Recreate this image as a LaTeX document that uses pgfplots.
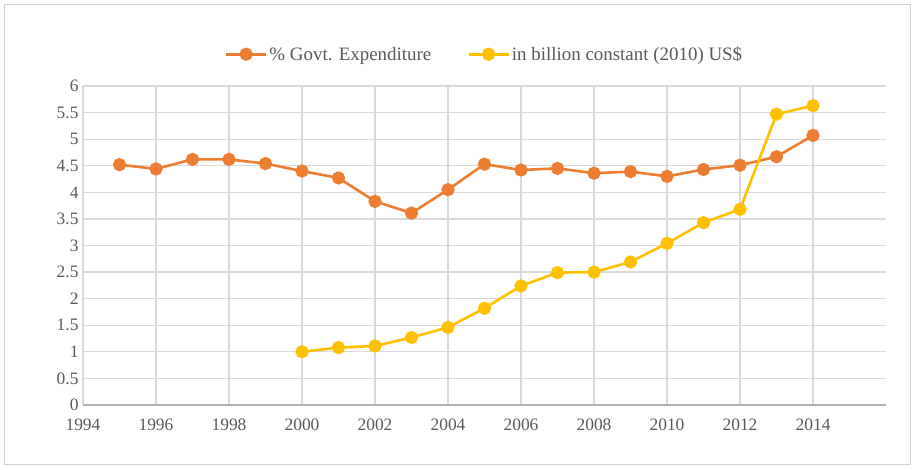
\documentclass[border=0pt]{standalone}
\usepackage{fontspec}
\setmainfont{Liberation Serif}
\usepackage{pgfplots}
\pgfplotsset{compat=1.18}
\definecolor{orng}{HTML}{ED7D31}
\definecolor{yell}{HTML}{FFC000}
\definecolor{grd}{HTML}{D9D9D9}
\definecolor{txt}{HTML}{595959}
\begin{document}
\begin{tikzpicture}
\begin{axis}[
  scale only axis,
  width=803bp, height=319bp,
  xmin=1994, xmax=2016, ymin=0, ymax=6,
  xtick={1994,1996,...,2014},
  ytick={0,0.5,...,6},
  xticklabel style={/pgf/number format/1000 sep={}},
  /pgf/number format/assume math mode=true,
  yticklabel style={/pgf/number format/fixed},
  grid=major,
  major grid style={grd, line width=1.2bp},
  axis x line*=bottom,
  axis y line*=left,
  y axis line style={draw=none},
  x axis line style={draw=gray!60, line width=1.2bp, -},
  major tick length=0pt,
  tick label style={font=\fontsize{17.5}{19}\selectfont, text=txt},
  xticklabel style={yshift=-10bp},
  yticklabel style={xshift=-1bp},
  every axis plot/.append style={line width=2.6bp},
  legend style={at={(0.5,1)}, anchor=south, yshift=20bp, draw=none,
    legend columns=2, font=\fontsize{19}{21}\selectfont, text=txt,
    /tikz/every even column/.append style={column sep=34bp}},
  legend image code/.code={\draw[mark repeat=2,mark phase=2] plot coordinates {(0bp,0bp)(20bp,0bp)(40bp,0bp)};},
  legend cell align=left,
  clip=false,
]
\addplot[orng, mark=*, mark size=5.3bp] coordinates {
(1995,4.52) (1996,4.44) (1997,4.62) (1998,4.62) (1999,4.54) (2000,4.40)
(2001,4.27) (2002,3.83) (2003,3.61) (2004,4.05) (2005,4.53) (2006,4.42)
(2007,4.45) (2008,4.36) (2009,4.39) (2010,4.30) (2011,4.43) (2012,4.51)
(2013,4.67) (2014,5.07)};
\addlegendentry{\% Govt. Expenditure}
\addplot[yell, mark=*, mark size=5.3bp] coordinates {
(2000,1.00) (2001,1.08) (2002,1.11) (2003,1.27) (2004,1.46) (2005,1.82)
(2006,2.24) (2007,2.49) (2008,2.50) (2009,2.69) (2010,3.04) (2011,3.43)
(2012,3.68) (2013,5.47) (2014,5.63)};
\addlegendentry{in billion constant (2010) US\$}
\end{axis}
\path (current axis.south west) ++(-78bp,-60bp) coordinate (A);
\path (current axis.north east) ++(24bp,81bp) coordinate (B);
\draw[gray!35, line width=1bp] (A) rectangle (B);
\path (current axis.south west) ++(-83bp,-65bp) coordinate (C);
\path (current axis.north east) ++(30bp,86bp) coordinate (D);
\useasboundingbox (C) rectangle (D);
\end{tikzpicture}
\end{document}
